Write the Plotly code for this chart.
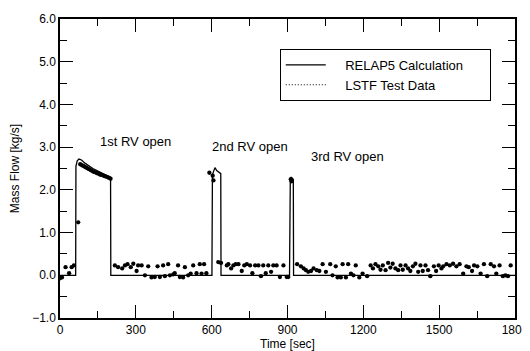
import plotly.graph_objects as go

# RELAP5 calculation (time [s], mass flow [kg/s])
calc_t = [0, 62, 63, 68, 75, 85, 100, 130, 160, 200, 201,
          601, 603, 613, 620, 636, 637,
          908, 911, 915, 923, 924, 1800]
calc_v = [0.0, 0.0, 2.55, 2.68, 2.72, 2.70, 2.62, 2.50, 2.41, 2.29, 0.0,
          0.0, 2.35, 2.52, 2.45, 2.38, 0.0,
          0.0, 2.20, 2.29, 2.25, 0.0, 0.0]

# LSTF test data
test_t = [0, 8, 22, 36, 46, 55, 72,
          80, 86, 92, 98, 104, 110, 116, 122, 128, 134, 140, 146, 152, 158, 164, 170, 176, 182, 188, 194, 200,
          217, 230, 246, 257, 267, 280, 290, 303, 309, 323, 336, 349, 362, 375, 386, 395, 408, 415, 428, 435,
          448, 454, 467, 474, 487, 494, 507, 517, 527, 540, 553, 560, 570, 579,
          591, 604, 607,
          626, 637, 660, 666, 677, 686, 695, 706, 719, 729, 739, 752, 761, 772, 785, 795, 804, 814, 824, 835,
          844, 857, 870, 884, 897, 903,
          913, 916,
          938, 953, 964, 973, 982, 993, 1003, 1016, 1026, 1039, 1052, 1069, 1078, 1091, 1098, 1111, 1118, 1131,
          1140, 1151, 1161, 1170, 1184, 1197,
          1215, 1229, 1238, 1248, 1259, 1268, 1277, 1288, 1298, 1307, 1316, 1327, 1338, 1347, 1356, 1367, 1377,
          1386, 1396, 1406, 1417, 1426, 1435, 1446, 1456, 1465, 1479, 1488, 1498, 1509,
          1516, 1529, 1542, 1555, 1568, 1581, 1595, 1608, 1617, 1630, 1638, 1651, 1664, 1677, 1690, 1704, 1717,
          1726, 1739, 1752, 1762, 1772, 1783]
test_v = [-0.07, -0.05, 0.19, 0.05, 0.19, 0.23, 1.24,
          2.60, 2.58, 2.56, 2.54, 2.52, 2.50, 2.48, 2.46, 2.44, 2.42, 2.41, 2.39, 2.38, 2.36, 2.35, 2.34, 2.32, 2.31, 2.30, 2.28, 2.26,
          0.23, 0.19, 0.16, 0.23, 0.26, 0.19, 0.27, 0.10, 0.23, 0.23, 0.00, 0.21, -0.05, -0.04, 0.21, -0.04, 0.23, -0.02, 0.26, 0.00,
          0.02, 0.05, 0.23, -0.04, -0.05, 0.19, 0.00, 0.04, 0.23, 0.05, 0.26, 0.04, 0.26, 0.05,
          2.40, 2.33, 2.22,
          0.31, 0.29, 0.23, 0.26, 0.16, 0.23, 0.26, 0.26, 0.10, 0.23, 0.26, 0.23, 0.05, 0.23, 0.23, -0.02, 0.23, 0.05, 0.23, 0.08,
          0.23, 0.23, -0.04, 0.23, -0.04, -0.04,
          2.25, 2.20,
          0.26, 0.21, 0.16, 0.12, 0.08, 0.10, 0.16, 0.12, 0.10, 0.26, 0.08, 0.26, 0.00, 0.21, -0.05, -0.05, 0.26, -0.05,
          0.26, 0.04, 0.00, 0.23, -0.05, 0.04,
          -0.02, 0.23, 0.16, 0.26, 0.21, 0.13, 0.23, 0.12, 0.29, 0.18, 0.27, 0.16, 0.12, 0.23, 0.13, 0.23, 0.16,
          0.10, 0.21, 0.27, 0.08, 0.23, 0.10, 0.23, 0.12, -0.02, 0.21, 0.10, 0.23, 0.16,
          0.21, 0.26, 0.23, 0.27, 0.21, 0.26, 0.04, 0.21, 0.19, 0.10, 0.23, 0.21, 0.04, 0.26, -0.02, 0.26, 0.21,
          0.04, 0.23, -0.02, 0.00, -0.02, 0.23]

x_ticks = [0, 300, 600, 900, 1200, 1500, 1800]
y_ticks = [-1.0, 0.0, 1.0, 2.0, 3.0, 4.0, 5.0, 6.0]

labels = ["1st RV open", "2nd RV open", "3rd RV open"]
label_t = [300, 750, 1138]
label_v = [3.14, 3.02, 2.79]

FONT = "Liberation Sans, Arial, sans-serif"
NB = "\u00a0"

fig = go.Figure()
fig.add_trace(go.Scatter(x=calc_t, y=calc_v, mode="lines",
                         name=NB * 4 + "RELAP5 Calculation" + NB * 6,
                         line=dict(color="black", width=1.3)))
fig.add_trace(go.Scatter(x=test_t, y=test_v, mode="markers", showlegend=False,
                         marker=dict(color="black", size=4.3)))
fig.add_trace(go.Scatter(x=[None], y=[None], mode="lines",
                         name=NB * 4 + "LSTF Test Data",
                         line=dict(color="black", width=1.2, dash="1px,2px")))

for txt, t, v in zip(labels, label_t, label_v):
    fig.add_annotation(x=t, y=v, text=txt, showarrow=False,
                       font=dict(family=FONT, size=13, color="black"))

axis_common = dict(showline=True, linecolor="black", linewidth=1.5, mirror="ticks",
                   ticks="inside", ticklen=13, tickwidth=1.2, tickcolor="black",
                   showgrid=False, zeroline=False,
                   tickfont=dict(family=FONT, size=12, color="black"))

fig.update_xaxes(range=[0, 1800], tickvals=x_ticks,
                 minor=dict(ticks="inside", ticklen=7, dtick=150, tickcolor="black", tickwidth=1.2),
                 title=dict(text="Time [sec]", font=dict(family=FONT, size=12, color="black"), standoff=0),
                 **axis_common)
fig.update_yaxes(range=[-1.0, 6.0], tickvals=y_ticks, tickformat=".1f", automargin=False,
                 minor=dict(ticks="inside", ticklen=7, dtick=0.5, tickcolor="black", tickwidth=1.2),
                 title=dict(text="Mass Flow [kg/s]", font=dict(family=FONT, size=12, color="black")),
                 **axis_common)

fig.update_layout(width=530, height=351, paper_bgcolor="white", plot_bgcolor="white",
                  margin=dict(l=52, r=22, t=9, b=41),
                  legend=dict(x=0.483, y=0.90, xanchor="left", yanchor="top",
                              bordercolor="black", borderwidth=1, bgcolor="white",
                              font=dict(family=FONT, size=13, color="black"),
                              tracegroupgap=0, itemwidth=40))

fig.write_html("out.html")
